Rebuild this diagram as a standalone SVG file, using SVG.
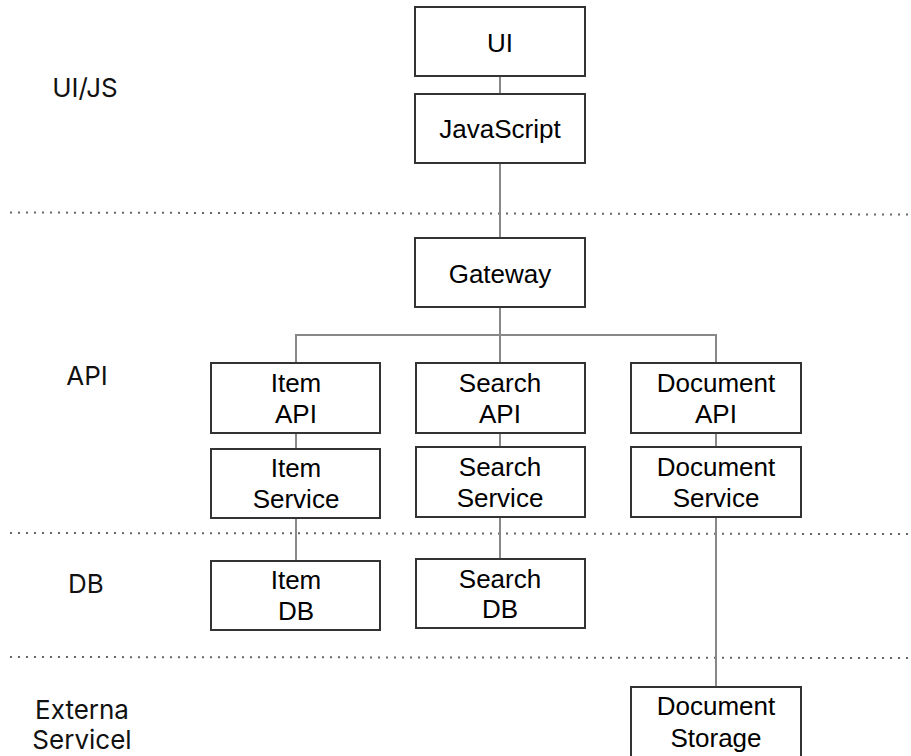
<svg xmlns="http://www.w3.org/2000/svg" width="911" height="756" viewBox="0 0 911 756">
<style>
.box{fill:#fff;stroke:#333;stroke-width:2}
.t{font-family:"Liberation Sans",Arial,sans-serif;font-size:26px;fill:#000;text-anchor:middle}
.lbl{font-family:Inter,"Noto Sans",sans-serif;font-size:26px;fill:#111;text-anchor:middle}
.con{stroke:#888;stroke-width:2;fill:none}
.dot{stroke:#666;stroke-width:2;stroke-dasharray:2 6;fill:none}
</style>
<rect width="911" height="756" fill="#fff"/>
<g id="separators">
<line class="dot" x1="10" y1="212.5" x2="911" y2="214.5"/>
<line class="dot" x1="10" y1="533" x2="911" y2="534"/>
<line class="dot" x1="10" y1="657" x2="911" y2="658"/>
</g>
<g id="layer-labels">
<text class="lbl" x="85" y="97">UI/JS</text>
<text class="lbl" x="87" y="385">API</text>
<text class="lbl" x="86" y="593">DB</text>
<text class="lbl" x="82" y="719">Externa</text>
<text class="lbl" x="82" y="749">Servicel</text>
</g>
<g id="connectors">
<line class="con" x1="500" y1="76" x2="500" y2="94"/>
<line class="con" x1="500" y1="163" x2="500" y2="238"/>
<line class="con" x1="500" y1="307" x2="500" y2="363"/>
<polyline class="con" points="296,363 296,335 716,335 716,363"/>
<line class="con" x1="296" y1="433" x2="296" y2="449"/>
<line class="con" x1="500" y1="433" x2="500" y2="447"/>
<line class="con" x1="716" y1="433" x2="716" y2="447"/>
<line class="con" x1="296" y1="518" x2="296" y2="561"/>
<line class="con" x1="500" y1="517" x2="500" y2="559"/>
<line class="con" x1="716" y1="517" x2="716" y2="687"/>
</g>
<g id="ui"><rect class="box" x="415" y="7" width="170" height="69"/><text class="t" x="500" y="52">UI</text></g>
<g id="javascript"><rect class="box" x="415" y="94" width="170" height="69"/><text class="t" x="500" y="138">JavaScript</text></g>
<g id="gateway"><rect class="box" x="415" y="238" width="170" height="69"/><text class="t" x="500" y="283">Gateway</text></g>
<g id="item-api"><rect class="box" x="211" y="363" width="169" height="70"/><text class="t" x="296" y="392">Item</text><text class="t" x="296" y="423">API</text></g>
<g id="search-api"><rect class="box" x="416" y="363" width="169" height="70"/><text class="t" x="500" y="392">Search</text><text class="t" x="500" y="423">API</text></g>
<g id="document-api"><rect class="box" x="631" y="363" width="170" height="70"/><text class="t" x="716" y="392">Document</text><text class="t" x="716" y="423">API</text></g>
<g id="item-service"><rect class="box" x="211" y="449" width="169" height="69"/><text class="t" x="296" y="477">Item</text><text class="t" x="296" y="508">Service</text></g>
<g id="search-service"><rect class="box" x="416" y="447" width="169" height="70"/><text class="t" x="500" y="476">Search</text><text class="t" x="500" y="507">Service</text></g>
<g id="document-service"><rect class="box" x="631" y="447" width="170" height="70"/><text class="t" x="716" y="476">Document</text><text class="t" x="716" y="507">Service</text></g>
<g id="item-db"><rect class="box" x="211" y="561" width="169" height="69"/><text class="t" x="296" y="589">Item</text><text class="t" x="296" y="620">DB</text></g>
<g id="search-db"><rect class="box" x="416" y="559" width="169" height="69"/><text class="t" x="500" y="588">Search</text><text class="t" x="500" y="618">DB</text></g>
<g id="document-storage"><rect class="box" x="631" y="687" width="170" height="80"/><text class="t" x="716" y="715">Document</text><text class="t" x="716" y="747">Storage</text></g>
</svg>
